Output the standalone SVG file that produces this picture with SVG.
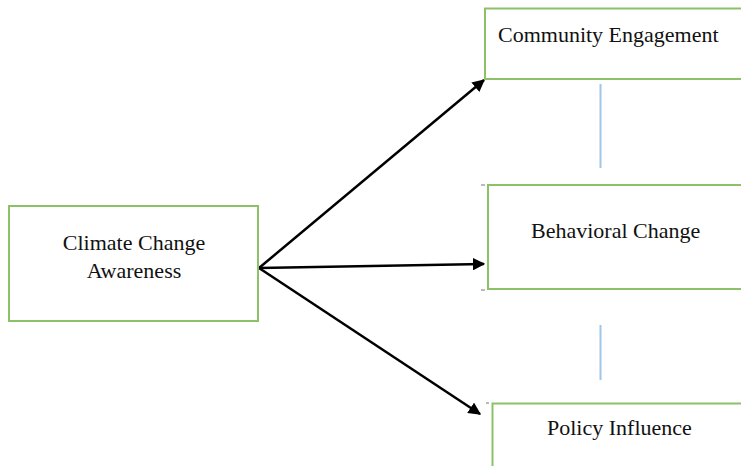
<svg xmlns="http://www.w3.org/2000/svg" width="741" height="466" viewBox="0 0 741 466">
<style>
.box{fill:#fff;stroke:#8cc168;stroke-width:2}
.lbl{font-family:"Liberation Serif","Times New Roman",serif;font-size:22px;fill:#111}
.arr{stroke:#000;stroke-width:2.5;fill:none;marker-end:url(#ah)}
.vl{stroke:#9fc5e8;stroke-width:2}
.tick{stroke:#777;stroke-width:1}
</style>
<defs>
<marker id="ah" viewBox="0 0 10 10" refX="9" refY="5" markerWidth="5" markerHeight="5" orient="auto" markerUnits="strokeWidth">
<path d="M0,0 L10,5 L0,10 z" fill="#000"/>
</marker>
</defs>
<rect width="741" height="466" fill="#fff"/>
<g id="connectors">
<line class="arr" x1="259" y1="268" x2="484" y2="80"/>
<line class="arr" x1="259" y1="268" x2="484" y2="264"/>
<line class="arr" x1="259" y1="268" x2="480" y2="414"/>
<line class="vl" x1="600.5" y1="84" x2="600.5" y2="168"/>
<line class="vl" x1="600.5" y1="325" x2="600.5" y2="380"/>
</g>
<g id="awareness">
<rect class="box" x="9" y="206" width="249" height="115"/>
<text class="lbl" x="134" y="250" text-anchor="middle">Climate Change</text>
<text class="lbl" x="134" y="278" text-anchor="middle">Awareness</text>
</g>
<g id="community">
<rect class="box" x="485" y="8.5" width="270" height="70.5"/>
<text class="lbl" x="498" y="42">Community Engagement</text>
</g>
<g id="behavioral">
<line class="tick" x1="481" y1="185" x2="485" y2="185"/>
<line class="tick" x1="481" y1="290" x2="485" y2="290"/>
<rect class="box" x="488" y="185" width="270" height="104"/>
<text class="lbl" x="531" y="238">Behavioral Change</text>
</g>
<g id="policy">
<line class="tick" x1="486" y1="403" x2="489" y2="403"/>
<rect class="box" x="492.5" y="403.5" width="270" height="80"/>
<text class="lbl" x="547" y="435">Policy Influence</text>
</g>
</svg>
